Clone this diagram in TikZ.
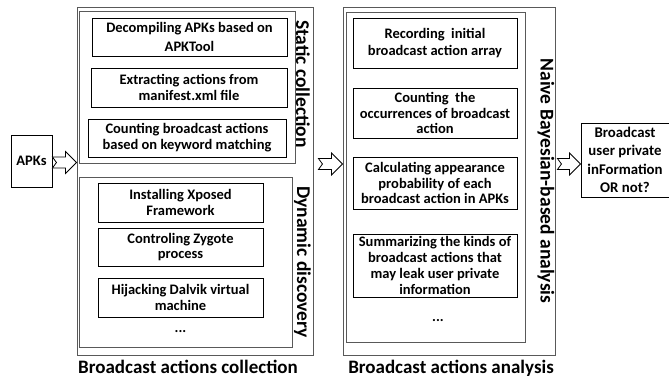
\documentclass[tikz,border=0pt]{standalone}
\usepackage{fontspec}
\setmainfont{Carlito}
\usetikzlibrary{calc}

\tikzset{
  base/.style={inner sep=0pt, align=center, fill=white},
  frame/.style={base, draw=black!65, line width=0.9bp},
  cell/.style={base, draw=black, line width=0.9bp},
  side/.style={rotate=-90, font=\bfseries\fontsize{19.5bp}{21bp}\selectfont},
  caption/.style={font=\bfseries\fontsize{19bp}{21bp}\selectfont},
  hollow/.style={draw=black, fill=white, line width=0.8bp, line join=miter},
}

% notched hollow arrow between two points on the same horizontal line
\newcommand\hollowarrow[2]{%
  \draw[hollow] let \p1=#1, \p2=#2 in
    (\x1,{\y1+5.5bp}) -- ({\x2-11bp},{\y1+5.5bp}) -- ({\x2-11bp},{\y1+11bp})
    -- (\x2,\y1) -- ({\x2-11bp},{\y1-11bp}) -- ({\x2-11bp},{\y1-5.5bp})
    -- (\x1,{\y1-5.5bp}) -- ({\x1+4bp},\y1) -- cycle;}

\begin{document}
\begin{tikzpicture}[x=1bp, y=-1bp, font=\bfseries\fontsize{14.5bp}{15.8bp}\selectfont]
\useasboundingbox (0,0) rectangle (669,379);

% input
\node[cell, minimum width=41bp, minimum height=52bp] (apk) at (31.5,161) {APKs};

% collection stage
\node[frame, minimum width=236bp, minimum height=348bp] (col) at (195,181) {};
\node[frame, minimum width=216bp, minimum height=152bp] (stat) at (187,87) {};
\node[frame, minimum width=213bp, minimum height=170bp] (dyn) at (185.5,262) {};

\node[cell, minimum width=195bp, minimum height=38bp] (s1) at (189.5,37) {Decompiling APKs based on\\[4bp] APKTool};
\node[cell, minimum width=196bp, minimum height=39bp] (s2) at (189,87.5) {Extracting actions from\\ manifest.xml file};
\node[cell, minimum width=198bp, minimum height=38bp] (s3) at (187,138) {Counting broadcast actions\\ based on keyword matching};

\node[cell, minimum width=165bp, minimum height=39bp] (d1) at (180.5,202.5) {Installing Xposed\\ Framework};
\node[cell, minimum width=165bp, minimum height=38bp] (d2) at (180.5,247) {Controling Zygote\\ process};
\node[cell, minimum width=165bp, minimum height=39bp] (d3) at (180.5,297.5) {Hijacking Dalvik virtual\\ machine};
\node (d4) at (180.5,332) {...};

\node[side] (statlab) at (303,84) {Static collection};
\node[side] (dynlab) at (302.5,262) {Dynamic discovery};
\node[caption] (collab) at (188,367) {Broadcast actions collection};

% analysis stage
\node[frame, minimum width=212bp, minimum height=348bp] (ana) at (449,181) {};
\node[frame, minimum width=179bp, minimum height=330bp] (bay) at (435.5,177) {};

\node[cell, minimum width=164bp, minimum height=50bp] (a1) at (435,43) {Recording\ \ initial\\[2bp] broadcast action array};
\node[cell, minimum width=164bp, minimum height=50bp] (a2) at (435,113) {Counting\ \ the\\ occurrences of broadcast\\ action};
\node[cell, minimum width=164bp, minimum height=52bp] (a3) at (435,183) {Calculating appearance\\ probability of each\\ broadcast action in APKs};
\node[cell, minimum width=164bp, minimum height=63bp] (a4) at (435,265.5) {Summarizing the kinds of\\ broadcast actions that\\ may leak user private\\ information};
\node (a5) at (438,321) {...};

\node[side] (baylab) at (546,181) {Naive Bayesian-based analysis};
\node[caption] (analab) at (451,368.5) {Broadcast actions analysis};

% output
\node[cell, minimum width=88bp, minimum height=74bp, font=\bfseries\fontsize{14.8bp}{18.5bp}\selectfont] (res) at (625,160) {Broadcast\\ user private\\ inFormation\\ OR not?};

% flow arrows
\hollowarrow{(apk.east |- 0,162.5)}{(col.west |- 0,162.5)}
\hollowarrow{($(col.east |- 0,164)+(5,0)$)}{(ana.west |- 0,164)}
\hollowarrow{($(ana.east |- 0,164)+(2,0)$)}{(res.west |- 0,164)}
\end{tikzpicture}
\end{document}
